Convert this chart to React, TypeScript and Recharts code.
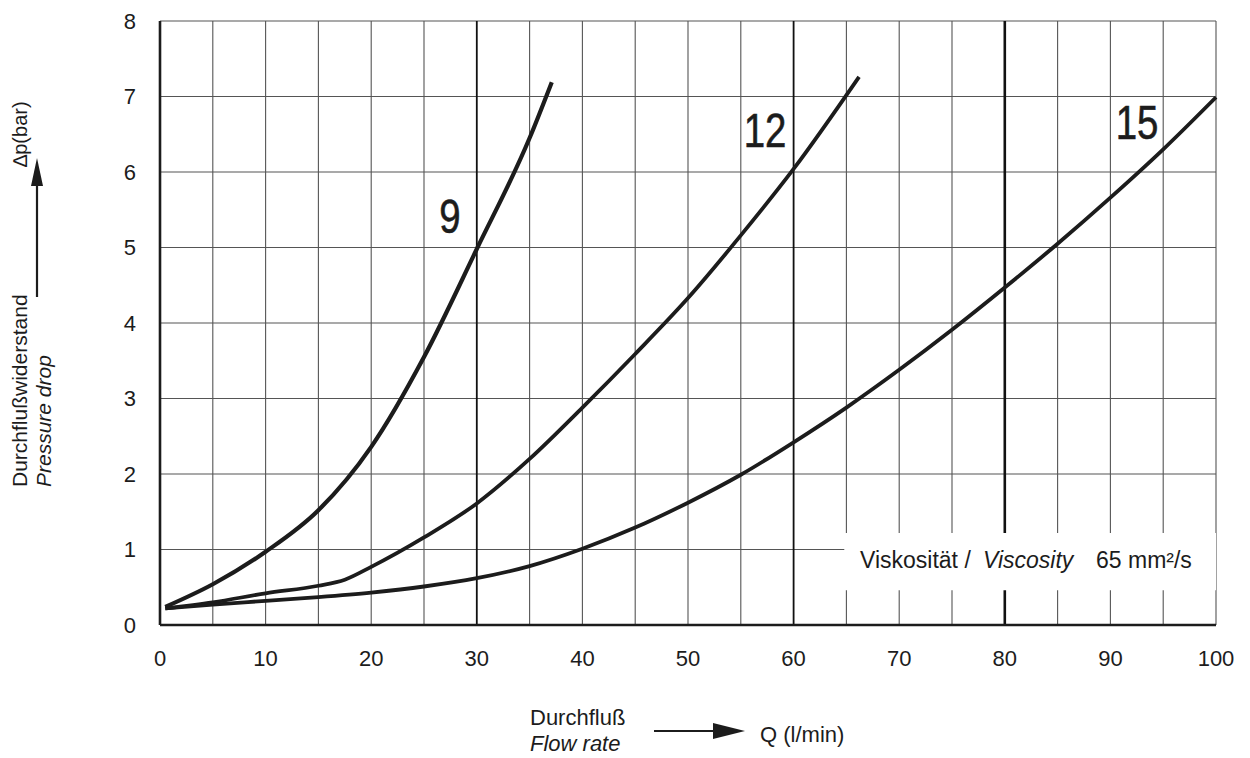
import { LineChart, Line, XAxis, YAxis, CartesianGrid, ReferenceArea } from "recharts";

// Q (l/min) / Δp (bar) pairs
const q9 = [0.5, 5, 10, 15, 20, 25, 30, 35, 37.1];
const dp9 = [0.24, 0.54, 0.97, 1.52, 2.36, 3.55, 4.98, 6.45, 7.19];

const q12 = [0.5, 5, 10, 15, 17.5, 20, 25, 30, 35, 40, 45, 50, 55, 60, 66.2];
const dp12 = [0.22, 0.3, 0.42, 0.52, 0.6, 0.77, 1.16, 1.61, 2.2, 2.88, 3.59, 4.33, 5.16, 6.04, 7.26];

const q15 = [0.5, 5, 10, 15, 20, 25, 30, 35, 40, 45, 50, 55, 60, 65, 70, 75, 80, 85, 90, 95, 100];
const dp15 = [0.22, 0.27, 0.32, 0.37, 0.43, 0.51, 0.62, 0.78, 1.01, 1.29, 1.62, 1.99, 2.42, 2.88, 3.38, 3.91, 4.47, 5.05, 5.66, 6.3, 6.99];

const xTicks = [0, 5, 10, 15, 20, 25, 30, 35, 40, 45, 50, 55, 60, 65, 70, 75, 80, 85, 90, 95, 100];
const yTicks = [0, 1, 2, 3, 4, 5, 6, 7, 8];
const heavyX = [30, 60, 80];

// viscosity note box (blanks the grid behind the text)
const noteBox = { x1: 64.8, x2: 100, y1: 0.46, y2: 1.22 };

const toRows = (qs: number[], dps: number[]) => qs.map((q, i) => ({ q, dp: dps[i] }));

const FONT = "'Liberation Sans', Arial, sans-serif";
const INK = "#1c1c1c";

export default function App() {
  const s9 = toRows(q9, dp9);
  const s12 = toRows(q12, dp12);
  const s15 = toRows(q15, dp15);

  const gridV = (p: any) => {
    const v = xTicks[p.index];
    const heavy = heavyX.includes(v);
    return (
      <line
        key={p.key ?? `v-${p.index}`}
        x1={p.x1}
        x2={p.x2}
        y1={p.y1}
        y2={p.y2}
        stroke={heavy ? "#111" : "#555"}
        strokeWidth={v === 80 ? 2.6 : heavy ? 1.8 : 1.1}
      />
    );
  };

  return (
    <div style={{ position: "relative", width: 1250, height: 758, background: "#fff" }}>
      <style>{"body{margin:0}"}</style>
      <LineChart width={1250} height={758} margin={{ top: 21, right: 34, bottom: 93, left: 100 }}>
        <CartesianGrid stroke="#555" strokeWidth={1.1} vertical={gridV} verticalValues={xTicks} horizontalValues={yTicks} />
        <XAxis
          type="number"
          dataKey="q"
          domain={[0, 100]}
          ticks={xTicks}
          interval={0}
          tickFormatter={(v: number) => (v % 10 === 0 ? String(v) : "")}
          tickLine={false}
          tickSize={0}
          tickMargin={25}
          height={40}
          axisLine={{ stroke: INK, strokeWidth: 2.6 }}
          tick={{ fontSize: 22, fill: INK, fontFamily: FONT }}
        />
        <XAxis xAxisId="top" orientation="top" type="number" domain={[0, 100]} tick={false} tickLine={false} height={0} axisLine={{ stroke: INK, strokeWidth: 2.2 }} />
        <YAxis
          type="number"
          dataKey="dp"
          domain={[0, 8]}
          ticks={yTicks}
          interval={0}
          tickLine={false}
          tickSize={0}
          tickMargin={24}
          width={60}
          axisLine={{ stroke: INK, strokeWidth: 2.6 }}
          tick={{ fontSize: 22, fill: INK, fontFamily: FONT }}
        />
        <YAxis yAxisId="right" orientation="right" type="number" domain={[0, 8]} tick={false} tickLine={false} width={0} axisLine={{ stroke: INK, strokeWidth: 2.2 }} />
        <ReferenceArea x1={noteBox.x1} x2={noteBox.x2} y1={noteBox.y1} y2={noteBox.y2} fill="#fff" fillOpacity={1} stroke="none" ifOverflow="visible" />
        <Line data={s9} dataKey="dp" type="monotone" stroke={INK} strokeWidth={4.2} dot={false} isAnimationActive={false} />
        <Line data={s12} dataKey="dp" type="monotone" stroke={INK} strokeWidth={3.8} dot={false} isAnimationActive={false} />
        <Line data={s15} dataKey="dp" type="monotone" stroke={INK} strokeWidth={3.8} dot={false} isAnimationActive={false} />
      </LineChart>

      <svg width={1250} height={758} style={{ position: "absolute", left: 0, top: 0, pointerEvents: "none" }} fontFamily={FONT} fill={INK}>
        {/* curve labels */}
        <g stroke={INK} strokeWidth={0.6}>
          <text transform="translate(450,233) scale(0.8,1)" fontSize={48} textAnchor="middle">9</text>
          <text transform="translate(765,147) scale(0.8,1)" fontSize={48} textAnchor="middle">12</text>
          <text transform="translate(1137,139) scale(0.8,1)" fontSize={48} textAnchor="middle">15</text>
        </g>

        {/* viscosity note */}
        <text y={568} fontSize={23}>
          <tspan x={860}>Viskosität /</tspan>
          <tspan x={983} fontStyle="italic">Viscosity</tspan>
          <tspan x={1096}>65 mm²/s</tspan>
        </text>

        {/* y axis title */}
        <text transform="translate(27,487) rotate(-90)" fontSize={21}>Durchflußwiderstand</text>
        <text transform="translate(51,487) rotate(-90)" fontSize={21} fontStyle="italic">Pressure drop</text>
        <text transform="translate(27,167) rotate(-90)" fontSize={20}>∆p(bar)</text>
        <line x1={37} y1={297} x2={37} y2={180} stroke={INK} strokeWidth={2.2} />
        <polygon points="37,158 31,186 43,186" fill={INK} />

        {/* x axis title */}
        <text x={530} y={725} fontSize={22}>Durchfluß</text>
        <text x={530} y={751} fontSize={22} fontStyle="italic">Flow rate</text>
        <line x1={654} y1={731} x2={720} y2={731} stroke={INK} strokeWidth={2.2} />
        <polygon points="745,731 713,723 713,739" fill={INK} />
        <text x={760} y={742} fontSize={22}>Q (l/min)</text>
      </svg>
    </div>
  );
}
